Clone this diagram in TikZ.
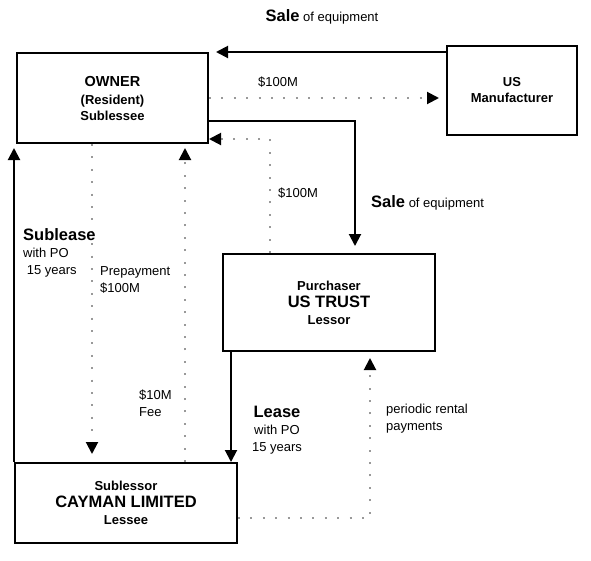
\documentclass[tikz,border=0pt]{standalone}
\usepackage{fontspec}
\setmainfont{Liberation Sans}
\usetikzlibrary{arrows.meta}
\newcommand\freg{\fontsize{13}{17}\selectfont}
\newcommand\fsm{\fontsize{13}{17}\selectfont\bfseries}
\newcommand\fmid{\fontsize{14.5}{17}\selectfont\bfseries}
\newcommand\fbig{\fontsize{16.5}{19}\selectfont\bfseries}
\begin{document}
\begin{tikzpicture}[x=1pt,y=-1pt,
  box/.style={draw, line width=2pt, inner sep=0pt, align=center},
  solidarrow/.style={line width=2pt, -{Triangle[length=12pt,width=12pt]}},
  dotarrow/.style={line width=2pt, gray!80, dash pattern=on 2pt off 10.4pt,
    -{Triangle[length=12pt,width=12pt,color=black,fill=black]}},
  lbl/.style={inner sep=0pt, font=\freg},
  lbll/.style={lbl, anchor=west, align=left},
]
\useasboundingbox (0,0) rectangle (591,560);

% boxes
\node[box, minimum width=191pt, minimum height=90pt, font=\fsm] (owner) at (112.5,98)
  {\fmid OWNER\\[1pt]\fsm (Resident)\\[-1pt]\fsm Sublessee};
\node[box, minimum width=130pt, minimum height=89pt, font=\fsm] (mfr) at (512,90.5)
  {\fsm US\\[-1pt]\fsm Manufacturer};
\node[box, minimum width=212pt, minimum height=97pt, font=\fsm] (trust) at (329,302.5)
  {\fsm Purchaser\\[0pt]\fbig US TRUST\\[0pt]\fsm Lessor};
\node[box, minimum width=222pt, minimum height=80pt, font=\fsm] (cayman) at (126,503)
  {\fsm Sublessor\\[0pt]\fbig CAYMAN LIMITED\\[0pt]\fsm Lessee};

% connectors
\draw[solidarrow] (mfr.west |- owner.north) -- ([xshift=7pt]owner.north east);
\draw[dotarrow] (owner.east) -- ([xshift=-7pt]mfr.west |- owner.east);
\draw[solidarrow] ([yshift=-23pt]owner.east) -| ([xshift=26pt,yshift=7pt]trust.north);
\draw[dotarrow] ([xshift=-59pt]trust.north) |- ([yshift=5pt]owner.south east);
\draw[solidarrow, shorten >=4pt] (cayman.north west) -- (cayman.north west |- owner.south);
\draw[dotarrow, shorten >=8pt] ([xshift=-20.5pt]owner.south) -- ([xshift=-20.5pt]owner.south |- cayman.north);
\draw[dotarrow, shorten >=4pt] ([xshift=59pt]cayman.north) -- ([xshift=59pt]cayman.north |- owner.south);
\draw[solidarrow] ([xshift=9pt]trust.south west) -- ([xshift=9pt]trust.south west |- cayman.north);
\draw[dotarrow, shorten >=6pt] ([yshift=-15pt]cayman.east) -| ([xshift=41pt]trust.south);

% labels
\node[lbl] (sale1) at (322,17) {{\fbig Sale} of equipment};
\node[lbl] (m1) at (278,82) {\$100M};
\node[lbl, anchor=west] (sale2) at (371,203) {{\fbig Sale} of equipment};
\node[lbl, anchor=west] (m2) at (278,193) {\$100M};
\node[lbll] (sublease) at (23,253) {\fbig Sublease\\\freg with PO\\\freg\ 15 years};
\node[lbll] (prepay) at (100,280) {\freg Prepayment\\\freg \$100M};
\node[lbll] (fee) at (139,403) {\freg \$10M\\\freg Fee};
\node[lbl, align=center] (lease) at (277,430) {\fbig Lease\\\freg with PO\\\freg 15 years};
\node[lbll] (rental) at (386,419) {\freg periodic rental\\\freg payments};
\end{tikzpicture}
\end{document}
